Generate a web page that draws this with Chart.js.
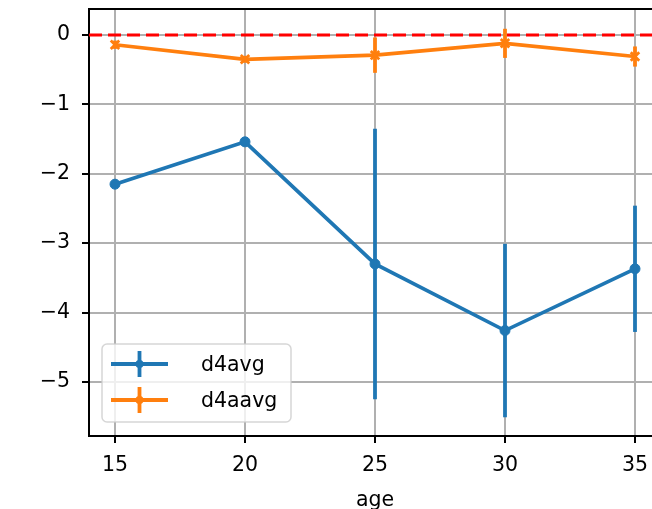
<!DOCTYPE html>
<html>
<head>
<meta charset="utf-8">
<script src="https://cdn.jsdelivr.net/npm/chart.js@4.4.1/dist/chart.umd.min.js"></script>
<style>
html, body { margin: 0; padding: 0; background: #fff; overflow: hidden; }
#wrap { position: absolute; left: 0; top: 0; width: 670px; height: 509px; }
</style>
</head>
<body>
<div id="wrap"><canvas id="chart" width="670" height="509"></canvas></div>
<script>
const ages = [15, 20, 25, 30, 35];
const d4avg = [-2.15, -1.54, -3.30, -4.26, -3.37];
const d4avgErr = [0, 0, 1.95, 1.25, 0.91];
const d4aavg = [-0.14, -0.35, -0.29, -0.12, -0.31];
const d4aavgErr = [0.06, 0.05, 0.255, 0.21, 0.145];
const xTicks = [15, 20, 25, 30, 35];
const yTicks = [0, -1, -2, -3, -4, -5];
const refLine = 0;
const xRange = [14, 36];
const yRange = [-5.78, 0.375];

const BLUE = "#1f77b4";
const ORANGE = "#ff7f0e";
const FONT = "'DejaVu Sans', sans-serif";
const FONT_SIZE = 20.5;

Chart.defaults.font.family = FONT;
Chart.defaults.font.size = FONT_SIZE;
Chart.defaults.color = "#000";

const toPoints = (ys) => ages.map((a, i) => ({ x: a, y: ys[i] }));
const minus = (v) => (v < 0 ? "\u2212" + Math.abs(v) : String(v));

// vertical error bars, drawn right after their own dataset
const errorBars = {
    id: "errorBars",
    afterDatasetDraw(chart, args) {
        const ds = chart.data.datasets[args.index];
        if (!ds.errors) return;
        const ctx = chart.ctx;
        const xs = chart.scales.x;
        const ys = chart.scales.y;
        ctx.save();
        ctx.strokeStyle = ds.borderColor;
        ctx.lineWidth = 3.8;
        ds.data.forEach((p, i) => {
            const e = ds.errors[i];
            if (!e) return;
            const px = xs.getPixelForValue(p.x);
            ctx.beginPath();
            ctx.moveTo(px, ys.getPixelForValue(p.y + e));
            ctx.lineTo(px, ys.getPixelForValue(p.y - e));
            ctx.stroke();
        });
        ctx.restore();
    }
};

// top/right frame + legend box in the lower left of the plot
const frameAndLegend = {
    id: "frameAndLegend",
    afterDraw(chart) {
        const ctx = chart.ctx;
        const a = chart.chartArea;
        ctx.save();
        ctx.strokeStyle = "#000";
        ctx.lineWidth = 2;
        ctx.beginPath();
        ctx.moveTo(a.left, a.top);
        ctx.lineTo(a.right, a.top);
        ctx.lineTo(a.right, a.bottom);
        ctx.stroke();

        const items = chart.data.datasets.filter(d => d.errors);
        const bx = a.left + 13;
        const bw = 189;
        const bh = 78;
        const by = a.bottom - 14 - bh;
        ctx.beginPath();
        ctx.roundRect(bx, by, bw, bh, 5);
        ctx.fillStyle = "rgba(255,255,255,0.8)";
        ctx.fill();
        ctx.strokeStyle = "rgba(204,204,204,0.8)";
        ctx.lineWidth = 1.5;
        ctx.stroke();

        items.forEach((d, i) => {
            const cy = by + 20 + i * 36;
            const x0 = bx + 9;
            const x1 = bx + 66;
            const cx = (x0 + x1) / 2;
            ctx.strokeStyle = d.borderColor;
            ctx.lineWidth = 3.8;
            ctx.beginPath();
            ctx.moveTo(x0, cy);
            ctx.lineTo(x1, cy);
            ctx.moveTo(cx, cy - 13);
            ctx.lineTo(cx, cy + 13);
            ctx.stroke();
            ctx.fillStyle = d.borderColor;
            ctx.beginPath();
            ctx.arc(cx, cy, 4, 0, Math.PI * 2);
            ctx.fill();
            ctx.fillStyle = "#000";
            ctx.font = FONT_SIZE + "px " + FONT;
            ctx.textBaseline = "middle";
            ctx.textAlign = "left";
            ctx.fillText(d.label, bx + 99, cy + 2);
        });
        ctx.restore();
    }
};

new Chart(document.getElementById("chart"), {
    type: "line",
    data: {
        datasets: [
            {
                label: "d4avg",
                data: toPoints(d4avg),
                errors: d4avgErr,
                borderColor: BLUE,
                backgroundColor: BLUE,
                borderWidth: 3.7,
                pointStyle: "circle",
                pointRadius: 5,
                pointBorderWidth: 1,
                order: 2
            },
            {
                label: "d4aavg",
                data: toPoints(d4aavg),
                errors: d4aavgErr,
                borderColor: ORANGE,
                backgroundColor: ORANGE,
                borderWidth: 3.7,
                pointStyle: "crossRot",
                pointRadius: 6,
                pointBorderWidth: 2.8,
                order: 1
            },
            {
                label: "zero",
                data: [{ x: xRange[0], y: refLine }, { x: xRange[1], y: refLine }],
                borderColor: "#ff0000",
                borderWidth: 3.2,
                borderDash: [13, 6],
                pointRadius: 0,
                order: 3
            }
        ]
    },
    options: {
        responsive: false,
        animation: false,
        events: [],
        layout: { padding: { left: 0, right: 9, top: 9, bottom: 0 } },
        plugins: {
            legend: { display: false },
            tooltip: { enabled: false }
        },
        scales: {
            x: {
                type: "linear",
                min: xRange[0],
                max: xRange[1],
                afterBuildTicks: (s) => { s.ticks = xTicks.map(v => ({ value: v })); },
                afterFit: (s) => { s.height = 73; s.paddingLeft = 0; s.paddingRight = 0; },
                ticks: { padding: 10, callback: (v) => minus(v) },
                grid: { color: "#b0b0b0", lineWidth: 2, tickColor: "#000", tickLength: 7, tickWidth: 2 },
                border: { display: true, color: "#000", width: 2 },
                title: { display: true, text: "age", padding: { top: 0, bottom: -4 } }
            },
            y: {
                type: "linear",
                min: yRange[0],
                max: yRange[1],
                afterBuildTicks: (s) => { s.ticks = yTicks.map(v => ({ value: v })); },
                afterFit: (s) => { s.width = 89; s.paddingTop = 0; s.paddingBottom = 0; },
                ticks: { padding: 12, callback: (v) => minus(v) },
                grid: { color: "#b0b0b0", lineWidth: 2, tickColor: "#000", tickLength: 7, tickWidth: 2 },
                border: { display: true, color: "#000", width: 2 }
            }
        }
    },
    plugins: [errorBars, frameAndLegend]
});
</script>
</body>
</html>
